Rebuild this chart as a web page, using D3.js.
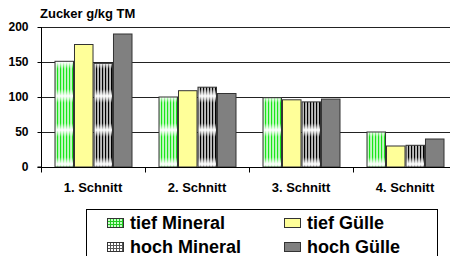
<!DOCTYPE html>
<html lang="de">
<head>
    <meta charset="UTF-8">
    <title>Zucker g/kg TM</title>
    <script type="text/javascript" src="https://cdn.jsdelivr.net/npm/d3@7/dist/d3.min.js"></script>
    <style>
        body { margin: 0; background: #fff; }
        text { font-family: "Liberation Sans", Arial, sans-serif; font-weight: bold; fill: #000; }
    </style>
</head>
<body>
<script type="text/javascript">
    const width = 450, height = 256;

    // Daten
    const cuts = ['1. Schnitt', '2. Schnitt', '3. Schnitt', '4. Schnitt'];
    const series = ['tief Mineral', 'tief Gülle', 'hoch Mineral', 'hoch Gülle'];
    const tiefMineral = [151, 100, 99, 50];
    const tiefGuelle = [175, 109, 96, 30];
    const hochMineral = [148, 114, 93, 31];
    const hochGuelle = [190, 105, 97, 40];
    const yTicks = [0, 50, 100, 150, 200];
    const values = [tiefMineral, tiefGuelle, hochMineral, hochGuelle];

    const svg = d3.select('body').append('svg')
        .attr('width', width)
        .attr('height', height);

    // Muster
    const defs = svg.append('defs');
    function stripePattern(id, col) {
        const grad = defs.append('linearGradient')
            .attr('id', id + '-grad')
            .attr('x1', 0).attr('y1', 0).attr('x2', 0).attr('y2', 1);
        grad.append('stop').attr('offset', '0').attr('stop-color', col).attr('stop-opacity', 0);
        grad.append('stop').attr('offset', '0.2').attr('stop-color', col).attr('stop-opacity', 1);
        grad.append('stop').attr('offset', '0.8').attr('stop-color', col).attr('stop-opacity', 1);
        grad.append('stop').attr('offset', '1').attr('stop-color', col).attr('stop-opacity', 0);
        const p = defs.append('pattern')
            .attr('id', id)
            .attr('patternUnits', 'userSpaceOnUse')
            .attr('width', 3).attr('height', 34)
            .attr('y', 28);
        p.append('rect').attr('width', 3).attr('height', 34).attr('fill', '#fff');
        p.append('rect').attr('x', 0.75).attr('width', 1.6).attr('height', 34)
            .attr('fill', 'url(#' + id + '-grad)');
    }
    stripePattern('pat-green', '#19e619');
    stripePattern('pat-black', '#000');

    function gridPattern(id, bg, line) {
        const p = defs.append('pattern')
            .attr('id', id)
            .attr('patternUnits', 'userSpaceOnUse')
            .attr('width', 3).attr('height', 3);
        p.append('rect').attr('width', 3).attr('height', 3).attr('fill', bg);
        p.append('rect').attr('width', 1).attr('height', 3).attr('fill', line);
        p.append('rect').attr('width', 3).attr('height', 1).attr('fill', line);
    }
    gridPattern('leg-green', '#c8ffc8', '#22cc22');
    gridPattern('leg-black', '#fff', '#555');

    const fills = ['url(#pat-green)', '#ffff99', 'url(#pat-black)', '#808080'];
    const legendFills = ['url(#leg-green)', '#ffff99', 'url(#leg-black)', '#808080'];

    // Skalen
    const x0 = d3.scaleBand().domain(cuts).range([41, 457]).padding(0);
    const x1 = d3.scaleBand().domain(series).range([14, 91]).paddingInner(0.05);
    const y = d3.scaleLinear().domain([0, 200]).range([167, 27]);

    // Gitterlinien
    svg.append('g')
        .selectAll('line')
        .data(yTicks.filter(d => d > 0))
        .enter()
        .append('line')
        .attr('x1', 41).attr('x2', 457)
        .attr('y1', d => Math.round(y(d)) + 0.5)
        .attr('y2', d => Math.round(y(d)) + 0.5)
        .style('stroke', '#222')
        .style('stroke-width', 1);

    // Balken
    const groups = svg.append('g')
        .selectAll('g')
        .data(cuts)
        .enter()
        .append('g')
        .attr('transform', d => 'translate(' + x0(d) + ',0)');
    groups.selectAll('rect')
        .data((d, i) => series.map((s, j) => ({ s: s, j: j, v: values[j][i] })))
        .enter()
        .append('rect')
        .attr('x', d => x1(d.s))
        .attr('width', x1.bandwidth())
        .attr('y', d => y(d.v))
        .attr('height', d => y(0) - y(d.v))
        .style('fill', d => fills[d.j])
        .style('stroke', '#333')
        .style('stroke-width', 1);

    // Y-Achse
    const yAxis = d3.axisLeft(y)
        .tickValues(yTicks)
        .tickSize(4)
        .tickPadding(9);
    const gy = svg.append('g')
        .attr('transform', 'translate(41.5,0)')
        .call(yAxis);
    gy.select('.domain').attr('d', 'M-4,' + y(0) + 'H0V' + y(200));
    gy.selectAll('.tick line').style('stroke', '#000');
    gy.selectAll('.tick text')
        .style('font-size', '12px')
        .style('font-family', '"Liberation Sans", Arial, sans-serif')
        .style('font-weight', 'bold');

    // X-Achse
    const xAxis = d3.axisBottom(x0).tickSize(0).tickPadding(0);
    const gx = svg.append('g')
        .attr('transform', 'translate(0,' + (y(0) + 0.5) + ')')
        .call(xAxis);
    gx.select('.domain').attr('d', 'M41,0H457');
    gx.selectAll('.tick text')
        .attr('y', 0)
        .attr('dy', '1.9em')
        .style('font-size', '13px')
        .style('font-family', '"Liberation Sans", Arial, sans-serif')
        .style('font-weight', 'bold');
    gx.selectAll('line.sep')
        .data(cuts)
        .enter()
        .append('line')
        .attr('class', 'sep')
        .attr('x1', d => Math.round(x0(d)) + 0.5)
        .attr('x2', d => Math.round(x0(d)) + 0.5)
        .attr('y1', 0).attr('y2', 5)
        .style('stroke', '#000');

    // Titel
    svg.append('text')
        .attr('x', 40).attr('y', 18)
        .style('font-size', '13px')
        .text('Zucker g/kg TM');

    // Legende
    svg.append('rect')
        .attr('x', 86.5).attr('y', 209.5)
        .attr('width', 351).attr('height', 60)
        .style('fill', '#fff')
        .style('stroke', '#000');
    const leg = svg.append('g')
        .selectAll('g')
        .data(series)
        .enter()
        .append('g')
        .attr('transform', (d, i) => 'translate(' + (i % 2 === 0 ? 107 : 284) + ',' + (i < 2 ? 218 : 242) + ')');
    leg.append('rect')
        .attr('x', 0.5).attr('y', 0.5)
        .attr('width', 16).attr('height', 9)
        .style('fill', (d, i) => legendFills[i])
        .style('stroke', '#333');
    leg.append('text')
        .attr('x', 23).attr('y', 11)
        .style('font-size', '18px')
        .text(d => d);
</script>
</body>
</html>
